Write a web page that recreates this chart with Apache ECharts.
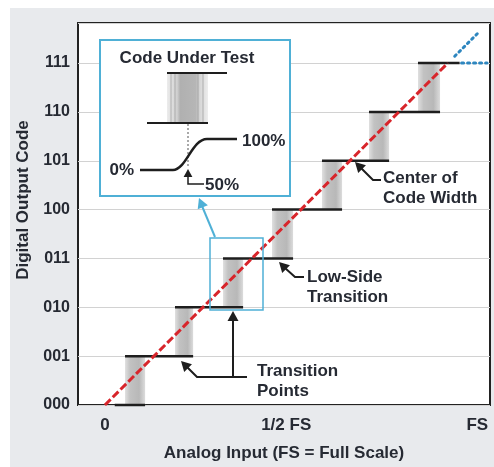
<!DOCTYPE html>
<html>
<head>
<meta charset="utf-8">
<title>ADC transfer function</title>
<script src="https://cdn.jsdelivr.net/npm/echarts@6/dist/echarts.min.js"></script>
<style>
    html, body { margin: 0; padding: 0; background: #fff; }
    #chart { width: 494px; height: 467px; }
</style>
</head>
<body>
<div id="chart"></div>
<script>
// y axis: output codes
const codeLabels = ["000", "001", "010", "011", "100", "101", "110", "111"];
// x axis ticks (in LSB)
const xTickValues = [0, 3.7, 7.6];
const xTickLabels = ["0", "1/2 FS", "FS"];
// grey noise band at each transition (LSB), code k-1 -> k
const bandStart = [0.41, 1.43, 2.41, 3.41, 4.43, 5.39, 6.39];
const bandEnd = [0.82, 1.80, 2.82, 3.84, 4.84, 5.80, 6.84];
// flat part of each code
const stepCode = [0, 1, 2, 3, 4, 5, 6, 7];
const stepStart = [0.20, 0.41, 1.43, 2.41, 3.41, 4.43, 5.39, 6.39];
const stepEnd = [0.82, 1.80, 2.82, 3.84, 4.84, 5.80, 6.84, 7.24];
// ideal line and its dotted continuation
const idealLine = [[0, 0], [7, 7]];
const idealExtend = [[7.14, 7.14], [7.6, 7.6]];
const lastCodeExtend = [[7.28, 7], [7.8, 7]];

const FONT = "Liberation Sans, Arial, sans-serif";
const TXT = "#262a33";
const BLUE = "#4fb0d6";

const bandData = bandStart.map((s, i) => [s, bandEnd[i], i, i + 1]);
const stepData = stepCode.map((c, i) => [stepStart[i], stepEnd[i], c]);

const bandFill = {
    type: "linear", x: 0, y: 0, x2: 1, y2: 0,
    colorStops: [
        { offset: 0, color: "#e0e0e0" },
        { offset: 0.25, color: "#c2c2c2" },
        { offset: 0.7, color: "#b8b8b8" },
        { offset: 1, color: "#dcdcdc" }
    ]
};

// arrow head (filled triangle) pointing at tip, coming from "from"
function head(tip, from, color, size) {
    const dx = tip[0] - from[0], dy = tip[1] - from[1];
    const len = Math.hypot(dx, dy);
    const ux = dx / len, uy = dy / len;
    const bx = tip[0] - ux * size, by = tip[1] - uy * size;
    const w = size * 0.55;
    return {
        type: "polygon",
        shape: { points: [tip, [bx - uy * w, by + ux * w], [bx + uy * w, by - ux * w]] },
        style: { fill: color },
        z: 100
    };
}
function poly(points, color, width, dash) {
    return {
        type: "polyline",
        shape: { points: points },
        style: { stroke: color, lineWidth: width, lineDash: dash || null, fill: null },
        z: 100
    };
}
function label(text, x, y, align) {
    return {
        type: "text",
        x: x, y: y,
        style: {
            text: text, font: "bold 17px " + FONT, fill: TXT,
            align: align || "left", verticalAlign: "middle", lineHeight: 20
        },
        z: 101
    };
}

const chart = echarts.init(document.getElementById("chart"));

chart.setOption({
    backgroundColor: "#e8eaed",
    animation: false,
    grid: {
        left: 78, right: 4, top: 23, bottom: 60,
        show: true, backgroundColor: "#fff",
        borderColor: "#222", borderWidth: 2
    },
    xAxis: {
        type: "value",
        min: -0.55, max: 7.86,
        name: "Analog Input (FS = Full Scale)",
        nameLocation: "middle",
        nameGap: 40,
        nameTextStyle: { fontFamily: FONT, fontWeight: "bold", fontSize: 17, color: TXT },
        axisLine: { show: false },
        axisTick: { show: false },
        splitLine: { show: false },
        axisLabel: {
            customValues: xTickValues,
            margin: 12,
            fontFamily: FONT, fontWeight: "bold", fontSize: 17, color: TXT,
            formatter: v => {
                const i = xTickValues.indexOf(v);
                return i >= 0 ? xTickLabels[i] : "";
            }
        }
    },
    yAxis: {
        type: "value",
        min: 0, max: 7.82, interval: 1,
        name: "Digital Output Code",
        nameLocation: "middle",
        nameGap: 46,
        nameTextStyle: {
            fontFamily: FONT, fontWeight: "bold", fontSize: 17, color: TXT,
            padding: [0, 0, 0, 28]
        },
        axisLine: { show: false },
        axisTick: { show: false },
        splitLine: { lineStyle: { color: "#d2d2d2", width: 1 } },
        axisLabel: {
            margin: 8,
            fontFamily: FONT, fontWeight: "bold", fontSize: 16, color: TXT,
            formatter: v => (Number.isInteger(v) && codeLabels[v]) ? codeLabels[v] : ""
        }
    },
    series: [
        {
            name: "noise band",
            type: "custom",
            z: 1,
            data: bandData,
            renderItem: (params, api) => {
                const p0 = api.coord([api.value(0), api.value(3)]);
                const p1 = api.coord([api.value(1), api.value(2)]);
                return {
                    type: "rect",
                    shape: { x: p0[0], y: p0[1], width: p1[0] - p0[0], height: p1[1] - p0[1] },
                    style: { fill: bandFill }
                };
            }
        },
        {
            name: "code steps",
            type: "custom",
            z: 2,
            data: stepData,
            renderItem: (params, api) => {
                const p0 = api.coord([api.value(0), api.value(2)]);
                const p1 = api.coord([api.value(1), api.value(2)]);
                return {
                    type: "line",
                    shape: { x1: p0[0], y1: p0[1], x2: p1[0], y2: p1[1] },
                    style: { stroke: "#1e1e1e", lineWidth: 2.5 }
                };
            }
        },
        {
            name: "ideal",
            type: "line",
            z: 3,
            data: idealLine,
            symbol: "none",
            lineStyle: { color: "#d8252b", width: 3, type: [8, 3] }
        },
        {
            name: "ideal ext",
            type: "line",
            z: 3,
            data: idealExtend,
            symbol: "none",
            lineStyle: { color: "#2d86bf", width: 3, type: [2, 4], cap: "round" }
        },
        {
            name: "last code ext",
            type: "line",
            z: 3,
            data: lastCodeExtend,
            symbol: "none",
            lineStyle: { color: "#2d86bf", width: 3, type: [2, 4], cap: "round" }
        }
    ],
    graphic: [
        // white page margins around the grey panel
        { type: "rect", shape: { x: 0, y: 0, width: 494, height: 8 }, style: { fill: "#fff" }, z: 0 },
        { type: "rect", shape: { x: 0, y: 0, width: 10, height: 467 }, style: { fill: "#fff" }, z: 0 },

        // zoom box on the plot and pointer to the inset
        { type: "rect", shape: { x: 210, y: 238, width: 53, height: 72 },
          style: { stroke: BLUE, lineWidth: 1.5, fill: null }, z: 90 },
        poly([[215, 237], [202, 206]], BLUE, 2),
        head([199, 198], [215, 237], BLUE, 10),

        // inset
        { type: "rect", shape: { x: 100, y: 40, width: 190, height: 156 },
          style: { stroke: BLUE, lineWidth: 2, fill: "#fff" }, z: 95 },
        label("Code Under Test", 187, 58, "center"),
        { type: "rect", shape: { x: 167, y: 73, width: 41, height: 50 },
          style: {
              fill: {
                  type: "linear", x: 0, y: 0, x2: 1, y2: 0,
                  colorStops: [
                      { offset: 0, color: "#ececec" },
                      { offset: 0.25, color: "#cfcfcf" },
                      { offset: 0.32, color: "#b0b0b0" },
                      { offset: 0.7, color: "#b6b6b6" },
                      { offset: 0.8, color: "#d6d6d6" },
                      { offset: 1, color: "#ededed" }
                  ]
              }
          }, z: 98 },
        poly([[171, 73], [171, 123]], "#999", 0.7),
        poly([[175, 73], [175, 123]], "#999", 0.7),
        poly([[198, 73], [198, 123]], "#999", 0.7),
        poly([[203, 73], [203, 123]], "#999", 0.7),
        poly([[167, 73], [227, 73]], "#1e1e1e", 2),
        poly([[147, 123], [208, 123]], "#1e1e1e", 2),
        poly([[188, 124], [188, 168]], "#555", 1, [2, 2]),
        poly([[140, 170], [173, 170]], "#1e1e1e", 2.5),
        {
            type: "bezierCurve",
            shape: { x1: 173, y1: 170, cpx1: 186, cpy1: 170, cpx2: 192, cpy2: 139, x2: 207, y2: 139 },
            style: { stroke: "#1e1e1e", lineWidth: 2.5, fill: null },
            z: 100
        },
        poly([[207, 139], [237, 139]], "#1e1e1e", 2.5),
        label("0%", 134, 170, "right"),
        label("100%", 242, 141, "left"),
        head([188, 169], [188, 180], "#1e1e1e", 8),
        poly([[188, 176], [188, 184], [204, 184]], "#1e1e1e", 1.5),
        label("50%", 205, 185, "left"),

        // callouts
        poly([[381, 180], [373, 180], [361, 168]], "#1e1e1e", 2),
        head([355, 162], [366, 173], "#1e1e1e", 10),
        label("Center of\nCode Width", 383, 188, "left"),

        poly([[304, 277], [295, 277], [285, 268]], "#1e1e1e", 2),
        head([279, 262], [290, 273], "#1e1e1e", 10),
        label("Low-Side\nTransition", 307, 287, "left"),

        poly([[247, 377], [197, 377], [187, 367]], "#1e1e1e", 2),
        head([181, 361], [192, 372], "#1e1e1e", 10),
        poly([[233, 377], [233, 320]], "#1e1e1e", 2),
        head([233, 311], [233, 330], "#1e1e1e", 10),
        label("Transition\nPoints", 257, 381, "left")
    ]
});
</script>
</body>
</html>
